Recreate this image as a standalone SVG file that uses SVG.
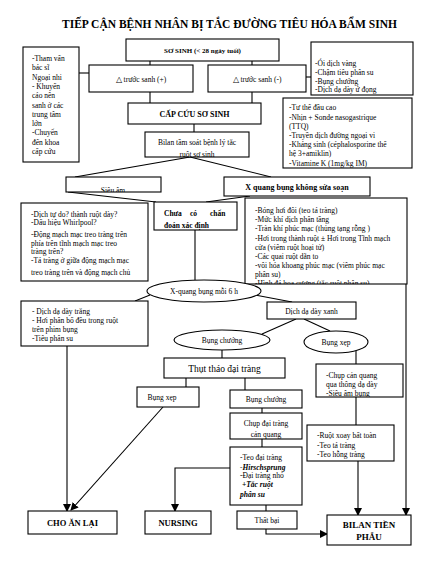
<svg xmlns="http://www.w3.org/2000/svg" width="434" height="572" viewBox="0 0 434 572">
<style>
text{font-family:"Liberation Serif","Times New Roman",serif;fill:#000}
.t{font-size:7.5px}
.b{font-weight:bold}
.c{text-anchor:middle}
.box{fill:#fff;stroke:#000;stroke-width:1.1}
.ln{fill:none;stroke:#000;stroke-width:1.1}
.bi{font-weight:bold;font-style:italic}
</style>
<defs>
<marker id="ar" markerUnits="userSpaceOnUse" markerWidth="8" markerHeight="8" refX="7" refY="4" orient="auto">
<path d="M0,0 L8,4 L0,8 Z" fill="#000"/>
</marker>
<clipPath id="cRT"><rect x="311" y="42" width="102" height="53"/></clipPath>
<clipPath id="cRM"><rect x="283" y="98" width="129" height="70"/></clipPath>
<clipPath id="cBL"><rect x="145" y="132" width="104" height="25"/></clipPath>
<clipPath id="cSA"><rect x="66" y="177" width="95" height="15"/></clipPath>
<clipPath id="cCC"><rect x="154" y="202" width="83" height="28"/></clipPath>
<clipPath id="cR3"><rect x="245" y="198" width="162" height="86"/></clipPath>
<clipPath id="cCQ"><rect x="316" y="364" width="87" height="33"/></clipPath>
<clipPath id="cDT"><rect x="230" y="413" width="72" height="26"/></clipPath>
<clipPath id="cTEO"><rect x="230" y="447" width="72" height="58"/></clipPath>
</defs>
<rect width="434" height="572" fill="#fff"/>
<text x="229.5" y="28" class="b c" font-size="13" textLength="335" lengthAdjust="spacingAndGlyphs">TIẾP CẬN BỆNH NHÂN BỊ TẮC ĐƯỜNG TIÊU HÓA BẨM SINH</text>

<g id="connectors">
<line class="ln" x1="150" y1="61" x2="150" y2="65"/>
<line class="ln" x1="252" y1="61" x2="252" y2="65"/>
<line class="ln" x1="79" y1="73" x2="89" y2="73"/>
<line class="ln" x1="306" y1="77" x2="311" y2="77"/>
<line class="ln" x1="150" y1="92" x2="150" y2="103"/>
<line class="ln" x1="252" y1="92" x2="252" y2="103"/>
<line class="ln" x1="194" y1="124" x2="194" y2="132"/>
<line class="ln" x1="190" y1="157" x2="75" y2="177"/>
<line class="ln" x1="190" y1="157" x2="271" y2="177"/>
<line class="ln" x1="68" y1="192" x2="156" y2="202"/>
<line class="ln" x1="250" y1="196" x2="206" y2="202"/>
<line class="ln" x1="195" y1="230" x2="195" y2="280"/>
<line class="ln" x1="150" y1="295" x2="135" y2="301"/>
<line class="ln" x1="255" y1="295" x2="292" y2="302"/>
<line class="ln" x1="296" y1="319" x2="262" y2="334"/>
<line class="ln" x1="304" y1="319" x2="330" y2="331"/>
<line class="ln" x1="222" y1="350" x2="222" y2="358"/>
<line class="ln" x1="186" y1="378" x2="186" y2="387"/>
<line class="ln" x1="245" y1="378" x2="245" y2="390"/>
<line class="ln" x1="262" y1="408" x2="262" y2="413"/>
<line class="ln" x1="262" y1="439" x2="262" y2="447"/>
<line class="ln" x1="356" y1="351" x2="356" y2="364"/>
<line class="ln" x1="356" y1="397" x2="356" y2="425"/>
<line class="ln" x1="358" y1="461" x2="358" y2="515" marker-end="url(#ar)"/>
<line class="ln" x1="406" y1="284" x2="406" y2="515" marker-end="url(#ar)"/>
<line class="ln" x1="67" y1="346" x2="67" y2="511" marker-end="url(#ar)"/>
<line class="ln" x1="163" y1="407" x2="71" y2="510" marker-end="url(#ar)"/>
<polyline class="ln" points="230,468 175,468 175,511" marker-end="url(#ar)"/>
<line class="ln" x1="266" y1="505" x2="266" y2="511"/>
<polyline class="ln" points="266,529 266,534 327,534" marker-end="url(#ar)"/>
</g>

<g id="sosinh"><rect class="box" x="126" y="39" width="153" height="22"/><text x="202.5" y="53" class="b c" font-size="7">SƠ SINH (&lt; 28 ngày tuổi)</text></g>
<g id="truoc-sanh-pos"><rect class="box" x="89" y="65" width="104" height="27"/><text x="141" y="81.5" class="t c" font-size="8">△ trước sanh (+)</text></g>
<g id="truoc-sanh-neg"><rect class="box" x="208" y="65" width="98" height="27"/><text x="257" y="81.5" class="t c" font-size="8">△ trước sanh (-)</text></g>
<g id="tham-van"><rect class="box" x="23" y="47" width="56" height="115"/>
<text class="t" x="32"><tspan x="32" y="61">-Tham vấn</tspan><tspan x="32" y="70.3">bác sĩ</tspan><tspan x="32" y="79.6">Ngoại nhi</tspan><tspan x="32" y="88.9">- Khuyến</tspan><tspan x="32" y="98.2">cáo nên</tspan><tspan x="32" y="107.5">sanh ở các</tspan><tspan x="32" y="116.8">trung tâm</tspan><tspan x="32" y="126.1">lớn</tspan><tspan x="32" y="135.4">-Chuyển</tspan><tspan x="32" y="144.7">đến khoa</tspan><tspan x="32" y="154">cấp cứu</tspan></text></g>
<g id="trieu-chung"><rect class="box" x="311" y="42" width="102" height="53"/>
<text class="t" clip-path="url(#cRT)"><tspan x="315" y="65.5">-Ói dịch vàng</tspan><tspan x="315" y="74.5">-Chậm tiêu phân su</tspan><tspan x="315" y="83.5">-Bụng chướng</tspan><tspan x="315" y="92">-Dịch dạ dày ứ đọng</tspan><tspan x="315" y="100.5">xanh &gt;25ml/ngày</tspan></text></g>
<g id="cap-cuu"><rect class="box" x="128" y="103" width="133" height="21"/><text x="194.5" y="116.5" class="b c" font-size="8">CẤP CỨU SƠ SINH</text></g>
<g id="xu-tri"><rect class="box" x="283" y="98" width="129" height="70"/>
<text class="t" clip-path="url(#cRM)"><tspan x="289" y="110">-Tư thế đầu cao</tspan><tspan x="289" y="119.5">-Nhịn + Sonde nasogastrique</tspan><tspan x="289" y="128.5">(TTQ)</tspan><tspan x="289" y="137.5">-Truyền dịch đường ngoại vi</tspan><tspan x="289" y="146.5">-Kháng sinh (céphalosporine thế</tspan><tspan x="289" y="156">hệ 3+amiklin)</tspan><tspan x="289" y="165.5">-Vitamine K (1mg/kg IM)</tspan></text></g>
<g id="bilan"><rect class="box" x="145" y="132" width="104" height="25"/>
<text class="t c" font-size="8" clip-path="url(#cBL)"><tspan x="197" y="145">Bilan tầm soát bệnh lý tắc</tspan><tspan x="197" y="156.5">ruột sơ sinh</tspan></text></g>
<g id="sieu-am"><rect class="box" x="66" y="177" width="95" height="15"/><text x="113" y="192.5" class="t c" clip-path="url(#cSA)">Siêu âm</text></g>
<g id="x-quang"><rect class="box" x="224" y="177" width="146" height="19"/><text x="297" y="190" class="b c" font-size="8">X quang bụng không sửa soạn</text></g>
<g id="sieu-am-kq"><rect class="box" x="21" y="203" width="127" height="78"/>
<text class="t"><tspan x="31" y="216.5">-Dịch tự do? thành ruột dày?</tspan><tspan x="31" y="225">-Dấu hiệu Whirlpool?</tspan><tspan x="31" y="236.5">-Động mạch mạc treo tràng trên</tspan><tspan x="31" y="245.5">phía trên  tĩnh mạch mạc treo</tspan><tspan x="31" y="253.5">tràng trên?</tspan><tspan x="31" y="263">-Tá tràng ở giữa động mạch mạc</tspan><tspan x="31" y="274.5">treo tràng trên và động mạch chủ</tspan></text></g>
<g id="chua-co"><rect class="box" x="154" y="202" width="83" height="28"/>
<text class="b" font-size="7.5" clip-path="url(#cCC)"><tspan x="164" y="215.5">Chưa</tspan><tspan x="190" y="215.5">có</tspan><tspan x="210" y="215.5">chẩn</tspan><tspan x="164" y="227.5">đoán xác định</tspan></text></g>
<g id="x-quang-kq"><rect class="box" x="245" y="198" width="162" height="86"/>
<text class="t" clip-path="url(#cR3)"><tspan x="255" y="212.5">-Bóng hơi đôi (teo tá tràng)</tspan><tspan x="255" y="221.5">-Mức khí dịch phân tầng</tspan><tspan x="255" y="231">-Tràn khí phúc mạc (thủng tạng rỗng )</tspan><tspan x="255" y="241">-Hơi trong thành ruột ± Hơi trong Tĩnh mạch</tspan><tspan x="255" y="250">cửa (viêm ruột hoại tử)</tspan><tspan x="255" y="258.5">-Các quai ruột dãn to</tspan><tspan x="255" y="268">-vôi hóa khoang phúc mạc (viêm phúc mạc</tspan><tspan x="255" y="277">phân su)</tspan><tspan x="255" y="286">-Hình đá hoa cương (tắc ruột phân su)</tspan></text></g>
<g id="xq-6h"><ellipse class="box" cx="204" cy="291" rx="57" ry="11"/><text x="204" y="294" class="t c">X-quang bụng mỗi 6 h</text></g>
<g id="dich-trang"><rect class="box" x="21" y="301" width="127" height="45"/>
<text class="t"><tspan x="32" y="314">- Dịch dạ dày trắng</tspan><tspan x="32" y="323">- Hơi phân bố đều trong ruột</tspan><tspan x="32" y="332">trên phim bụng</tspan><tspan x="32" y="341">-Tiêu phân su</tspan></text></g>
<g id="dich-xanh"><rect class="box" x="267" y="302" width="89" height="17"/><text x="311.5" y="314" class="t c">Dịch dạ dày xanh</text></g>
<g id="bung-chuong-e"><ellipse class="box" cx="222" cy="340" rx="48" ry="10"/><text x="222" y="343" class="t c" font-size="8">Bụng chướng</text></g>
<g id="bung-xep-e"><ellipse class="box" cx="336" cy="342" rx="32" ry="11"/><text x="336" y="345" class="t c" font-size="8">Bụng xẹp</text></g>
<g id="thut-thao"><rect class="box" x="164" y="358" width="121" height="20"/><text x="224.5" y="371.5" class="c" font-size="9.5">Thụt tháo đại tràng</text></g>
<g id="bung-xep"><rect class="box" x="137" y="387" width="62" height="20"/><text x="162" y="400" class="t c" font-size="8">Bụng xẹp</text></g>
<g id="bung-chuong"><rect class="box" x="230" y="390" width="72" height="18"/><text x="266" y="402" class="t c" font-size="8">Bụng chướng</text></g>
<g id="chup-cq"><rect class="box" x="316" y="364" width="87" height="33"/>
<text class="t" font-size="8" clip-path="url(#cCQ)"><tspan x="326" y="377.5">-Chụp cản quang</tspan><tspan x="326" y="387">qua thông dạ dày</tspan><tspan x="326" y="396">-Siêu âm bụng</tspan></text></g>
<g id="chup-dt"><rect class="box" x="230" y="413" width="72" height="26"/>
<text class="t c" font-size="8" clip-path="url(#cDT)"><tspan x="266" y="426">Chụp đại tràng</tspan><tspan x="266" y="436.5">cản quang</tspan></text></g>
<g id="teo-dt"><rect class="box" x="230" y="447" width="72" height="58"/>
<text class="t" font-size="8" clip-path="url(#cTEO)"><tspan x="240" y="460">-Teo đại tràng</tspan><tspan x="240" y="469.5" class="bi">-Hirschsprung</tspan><tspan x="240" y="478">-Đại tràng nhỏ</tspan><tspan x="242" y="487" class="bi">+Tắc ruột</tspan><tspan x="240" y="497" class="bi">phân su</tspan></text></g>
<g id="ruot-xoay"><rect class="box" x="307" y="425" width="87" height="36"/>
<text class="t" font-size="8"><tspan x="317" y="437.5">-Ruột xoay bất toàn</tspan><tspan x="317" y="447.5">-Teo tá tràng</tspan><tspan x="317" y="456.5">-Teo hỗng tràng</tspan></text></g>
<g id="cho-an-lai"><rect class="box" x="28" y="511" width="89" height="23"/><text x="72.5" y="525.5" class="b c" font-size="8.5">CHO ĂN LẠI</text></g>
<g id="nursing"><rect class="box" x="145" y="511" width="66" height="23"/><text x="178" y="525.5" class="b c" font-size="8.5">NURSING</text></g>
<g id="that-bai"><rect class="box" x="237" y="511" width="60" height="18"/><text x="267" y="523" class="t c">Thất bại</text></g>
<g id="bilan-tien-phau"><rect class="box" x="327" y="515" width="84" height="30"/>
<text class="b c" font-size="9"><tspan x="369" y="528">BILAN TIỀN</tspan><tspan x="369" y="540">PHẪU</tspan></text></g>
</svg>
